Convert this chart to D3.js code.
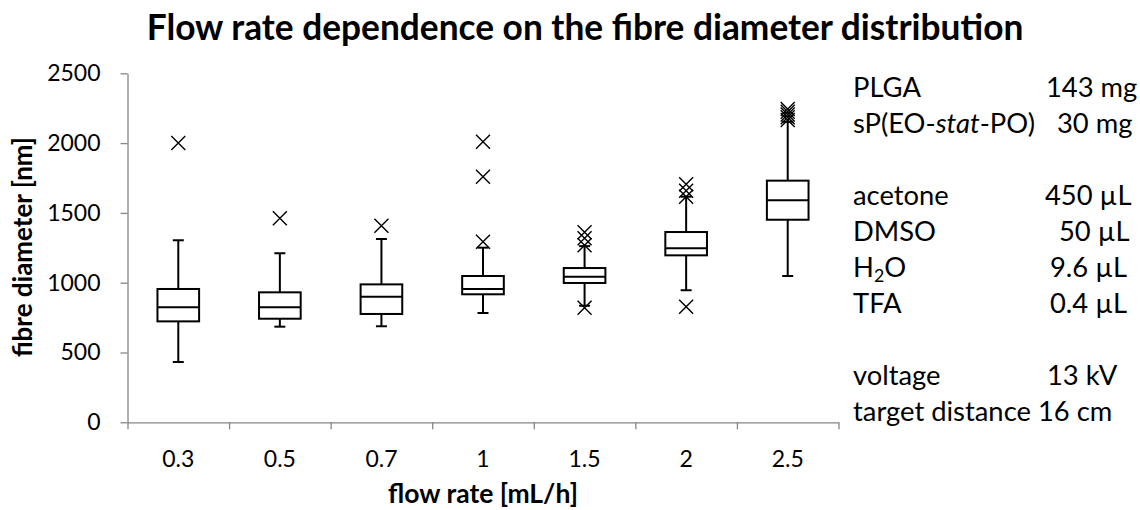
<!DOCTYPE html>
<html>
<head>
<meta charset="utf-8">
<script src="https://cdnjs.cloudflare.com/ajax/libs/d3/7.8.5/d3.min.js"></script>
<style>
  body { margin: 0; background: #fff; }
  text { font-family: Lato, "Open Sans", sans-serif; fill: #000; }
</style>
</head>
<body>
<div id="chart"></div>
<script>
// flow rate categories and box plot stats (fibre diameter, nm)
var categories = ["0.3", "0.5", "0.7", "1", "1.5", "2", "2.5"];
var whiskerLow = [432, 685, 688, 783, 835, 946, 1048];
var q1 = [723, 742, 776, 917, 998, 1196, 1451];
var median = [824, 824, 900, 955, 1043, 1246, 1590];
var q3 = [955, 931, 988, 1048, 1105, 1363, 1731];
var whiskerHigh = [1304, 1211, 1313, 1251, 1262, 1616, 2153];
var outliers = [
    [2000],
    [1461],
    [1408],
    [1294, 1759, 2010],
    [820, 1268, 1318, 1361],
    [828, 1616, 1659, 1705],
    [2165, 2185, 2205, 2225, 2245]
];
var yTicks = [0, 500, 1000, 1500, 2000, 2500];

// side notes
var noteLabels = ["PLGA", "sP(EO-stat-PO)", "", "acetone", "DMSO", "H2O", "TFA", "", "voltage", "target distance"];
var noteValues = ["143 mg", "30 mg", "", "450 µL", "50 µL", "9.6 µL", "0.4 µL", "", "13 kV", "16 cm"];

var width = 1140, height = 510;
var plotLeft = 127.5, plotRight = 838.5, plotTop = 73.3, plotBottom = 422.3;
var axisColor = "#868686";

var svg = d3.select("#chart").append("svg")
    .attr("width", width)
    .attr("height", height);

var rows = categories.map(function (c, i) {
    return { cat: c, low: whiskerLow[i], q1: q1[i], med: median[i], q3: q3[i], high: whiskerHigh[i], out: outliers[i] };
});

var xScale = d3.scaleBand().domain(categories).range([plotLeft, plotRight]).padding(0);
var edgeScale = d3.scaleLinear().domain([0, categories.length]).range([plotLeft, plotRight]);
var yScale = d3.scaleLinear().domain([0, 2500]).range([plotBottom, plotTop]);

function fit(sel, w) {
    var len = sel.node().getComputedTextLength();
    var fs = parseFloat(sel.attr("font-size"));
    sel.attr("font-size", fs * w / len);
}

// y axis
var yAxis = d3.axisLeft(yScale).tickValues(yTicks).tickFormat(d3.format("d"))
    .tickSize(7).tickSizeOuter(0).tickPadding(20);
var gy = svg.append("g").attr("transform", "translate(" + plotLeft + ",0)").call(yAxis);
gy.select(".domain").attr("stroke", axisColor).attr("stroke-width", 1.3);
gy.selectAll(".tick line").attr("stroke", axisColor).attr("stroke-width", 1.3);
gy.selectAll(".tick text").attr("font-size", 23);

// x axis: ticks on the category edges, labels in the middle
var xEdges = d3.axisBottom(edgeScale).tickValues(d3.range(categories.length + 1)).tickSize(7).tickSizeOuter(0).tickFormat("");
var gx = svg.append("g").attr("transform", "translate(0," + plotBottom + ")").call(xEdges);
gx.select(".domain").attr("stroke", axisColor).attr("stroke-width", 1.3);
gx.selectAll(".tick line").attr("stroke", axisColor).attr("stroke-width", 1.3);

var xLabels = d3.axisBottom(xScale).tickSize(0).tickPadding(0);
var gxl = svg.append("g").attr("transform", "translate(0," + plotBottom + ")").call(xLabels);
gxl.select(".domain").remove();
gxl.selectAll(".tick text").attr("font-size", 23).attr("dy", null).attr("y", 45);

// boxes
var bw = xScale.bandwidth() * 0.41;
var cw = 11;
var boxes = svg.selectAll(".box").data(rows).enter().append("g")
    .attr("class", "box")
    .attr("transform", function (d) { return "translate(" + (xScale(d.cat) + xScale.bandwidth() / 2) + ",0)"; });

boxes.append("line").attr("x1", 0).attr("x2", 0)
    .attr("y1", function (d) { return yScale(d.high); })
    .attr("y2", function (d) { return yScale(d.q3); });
boxes.append("line").attr("x1", 0).attr("x2", 0)
    .attr("y1", function (d) { return yScale(d.q1); })
    .attr("y2", function (d) { return yScale(d.low); });
boxes.append("line").attr("x1", -cw / 2).attr("x2", cw / 2)
    .attr("y1", function (d) { return yScale(d.high); })
    .attr("y2", function (d) { return yScale(d.high); });
boxes.append("line").attr("x1", -cw / 2).attr("x2", cw / 2)
    .attr("y1", function (d) { return yScale(d.low); })
    .attr("y2", function (d) { return yScale(d.low); });
boxes.append("rect")
    .attr("x", -bw / 2).attr("width", bw)
    .attr("y", function (d) { return yScale(d.q3); })
    .attr("height", function (d) { return yScale(d.q1) - yScale(d.q3); })
    .attr("fill", "#fff");
boxes.append("line").attr("x1", -bw / 2).attr("x2", bw / 2)
    .attr("y1", function (d) { return yScale(d.med); })
    .attr("y2", function (d) { return yScale(d.med); });
boxes.selectAll("line, rect").attr("stroke", "#000").attr("stroke-width", 2);

// outlier crosses
var m = 7;
boxes.selectAll(".out").data(function (d) { return d.out; }).enter().append("path")
    .attr("class", "out")
    .attr("d", function (v) {
        var y = yScale(v);
        return "M" + (-m) + "," + (y - m) + "L" + m + "," + (y + m) + "M" + (-m) + "," + (y + m) + "L" + m + "," + (y - m);
    })
    .attr("stroke", "#000").attr("stroke-width", 1.4).attr("fill", "none");

// titles
var title = svg.append("text")
    .attr("x", 585).attr("y", 40)
    .attr("text-anchor", "middle")
    .attr("font-weight", "bold")
    .attr("font-size", 29)
    .text("Flow rate dependence on the fibre diameter distribution");
fit(title, 877);

var yTitle = svg.append("text")
    .attr("transform", "translate(32,247) rotate(-90)")
    .attr("text-anchor", "middle")
    .attr("font-weight", "bold")
    .attr("font-size", 21)
    .text("fibre diameter [nm]");
fit(yTitle, 220);

var xTitle = svg.append("text")
    .attr("x", (plotLeft + plotRight) / 2).attr("y", 503)
    .attr("text-anchor", "middle")
    .attr("font-weight", "bold")
    .attr("font-size", 21)
    .text("flow rate [mL/h]");
fit(xTitle, 190);

// side notes
var probe = svg.append("text").attr("font-size", 26).text("target distance");
var noteSize = 26 * 178 / probe.node().getComputedTextLength();
probe.remove();

var noteX = 853, noteTop = 97, notePitch = 36;
var valueX = [1046, 1057, 0, 1045, 1059, 1050, 1050, 0, 1047, 1038];

noteLabels.forEach(function (lab, i) {
    if (!lab) return;
    var y = noteTop + i * notePitch;
    var t = svg.append("text").attr("x", noteX).attr("y", y).attr("font-size", noteSize);
    if (lab === "sP(EO-stat-PO)") {
        t.append("tspan").text("sP(EO-");
        t.append("tspan").attr("font-style", "italic").text("stat");
        t.append("tspan").text("-PO)");
    } else if (lab === "H2O") {
        t.append("tspan").text("H");
        t.append("tspan").attr("font-size", noteSize * 0.65).attr("dy", noteSize * 0.18).text("2");
        t.append("tspan").attr("dy", -noteSize * 0.18).text("O");
    } else {
        t.text(lab);
    }
    svg.append("text").attr("x", valueX[i]).attr("y", y).attr("font-size", noteSize).text(noteValues[i]);
});
</script>
</body>
</html>
